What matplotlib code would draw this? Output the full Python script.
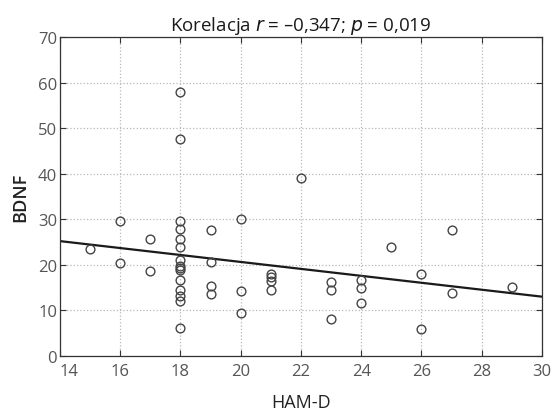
import matplotlib.pyplot as plt
import numpy as np

# HAM-D vs BDNF
ham_d = [15, 16, 16, 17, 17,
         18, 18, 18, 18, 18, 18, 18, 18, 18, 18, 18, 18, 18, 18, 18,
         19, 19, 19, 19, 20, 20, 20, 21, 21, 21, 21, 22,
         23, 23, 23, 24, 24, 24, 25, 26, 26, 27, 27, 29]
bdnf = [23.5, 29.6, 20.3, 25.7, 18.6,
        57.9, 47.7, 29.7, 27.8, 25.7, 23.9, 21.1, 19.8, 19.3, 18.9, 16.6, 14.5, 13.2, 12.1, 6.2,
        27.6, 20.7, 15.3, 13.5, 30.0, 14.2, 9.4, 18.0, 17.3, 16.5, 14.5, 39.1,
        16.2, 14.5, 8.1, 16.7, 15.0, 11.7, 23.9, 18.0, 5.8, 27.7, 13.7, 15.1]

# linia regresji
fit_x = [14, 30]
fit_y = [25.2, 13.0]

x_ticks = [14, 16, 18, 20, 22, 24, 26, 28, 30]
y_ticks = [0, 10, 20, 30, 40, 50, 60, 70]

plt.rcParams['font.family'] = ['Open Sans', 'DejaVu Sans']

fig = plt.figure(figsize=(5.53, 4.14), dpi=100)
ax = fig.add_axes([0.1085, 0.138, 0.8715, 0.77])

ax.plot(fit_x, fit_y, color='#1a1a1a', linewidth=1.6, zorder=2)
ax.plot(ham_d, bdnf, linestyle='none', marker='o', markersize=6.3,
        markerfacecolor='none', markeredgecolor='#444444', markeredgewidth=1.0, zorder=3)

ax.set_xlim(14, 30)
ax.set_ylim(0, 70)
ax.set_xticks(x_ticks)
ax.set_yticks(y_ticks)
ax.grid(True, linestyle=':', color='#b8b8b8', linewidth=0.9)
ax.tick_params(direction='in', top=True, right=True, length=4, width=0.8,
               labelsize=12, labelcolor='#555555', color='#333333')
ax.tick_params(axis='x', pad=5)
ax.tick_params(axis='y', pad=2)
for s in ax.spines.values():
    s.set_color('#333333')
    s.set_linewidth(0.9)

# pierwsza etykieta osi X wyrównana do lewej, żeby nie nachodziła na "0"
ax.get_xticklabels()[0].set_horizontalalignment('left')

ax.set_xlabel('HAM-D', fontsize=13, color='#222222', labelpad=10)
ax.set_ylabel('BDNF', fontsize=13, color='#222222', fontweight='semibold', labelpad=6)
ax.set_title(r'Korelacja $\it{r}$ = –0,347; $\it{p}$ = 0,019', fontsize=13.5, color='#1a1a1a', pad=5)

fig.savefig('out.png', dpi=100)
